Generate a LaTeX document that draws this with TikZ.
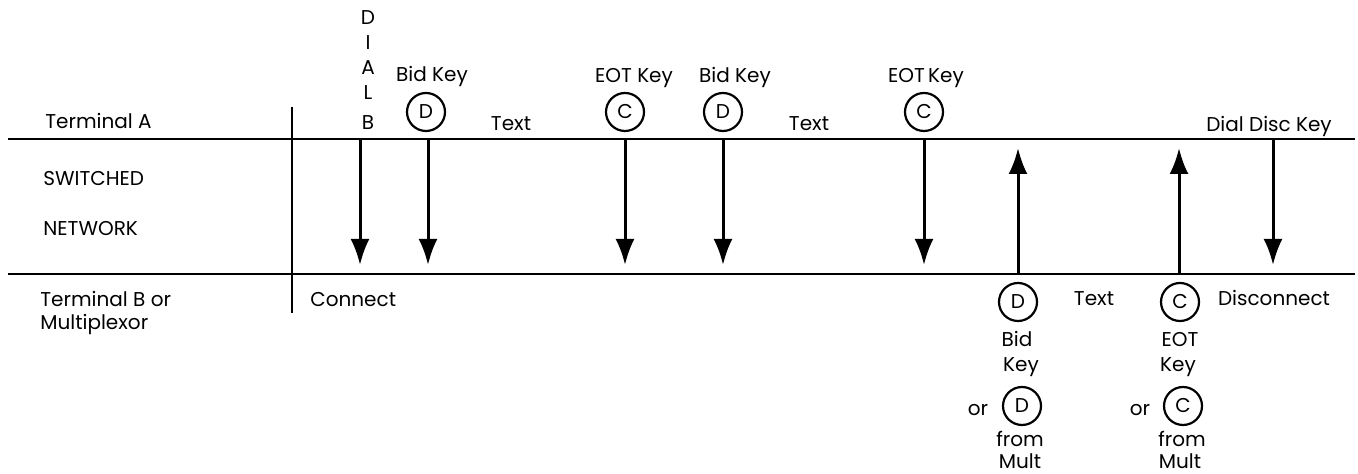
\documentclass[tikz,border=0pt]{standalone}
\usepackage{fontspec}
\setmainfont{Poppins}
\usetikzlibrary{arrows.meta}

\begin{document}
\begin{tikzpicture}[x=0.5pt, y=-0.5pt,
  every node/.style={font=\fontsize{10}{12}\selectfont, inner sep=0pt},
  lbl/.style={anchor=base},
  lblw/.style={anchor=base west},
  keyc/.style={circle, draw, line width=1.1pt, minimum size=19pt},
  rule/.style={line width=1pt},
  sig/.style={line width=1.5pt, -{Latex[length=13pt,width=9.5pt]}}]

\useasboundingbox (0,0) rectangle (1358,474);

\draw[rule] (8,139) -- (1355,139);
\draw[rule] (8,274) -- (1355,274);
\draw[rule] (292,107) -- (292,313);

% Terminal A row
\node[lblw] (tA)  at (45,129)  {Terminal A};
\node[lbl]  (dD)  at (368,25)  {D};
\node[lbl]  (dI)  at (368,50)  {I};
\node[lbl]  (dA)  at (368,75)  {A};
\node[lbl]  (dL)  at (368,100) {L};
\node[lbl]  (dB)  at (368,130) {B};
\node[lbl]  (bk1) at (432,82)  {Bid Key};
\node[keyc] (kD1) at (426,112) {D};
\node[lbl]  (tx1) at (511,131) {Text};
\node[lbl]  (ek1) at (634,83)  {EOT Key};
\node[keyc] (kC1) at (625,112) {C};
\node[lbl]  (bk2) at (735,83)  {Bid Key};
\node[keyc] (kD2) at (723,112) {D};
\node[lbl]  (tx2) at (809,131) {Text};
\node[lbl]  (ek2) at (926,83)  {EOT\,Key};
\node[keyc] (kC2) at (924,112) {C};
\node[lbl]  (ddk) at (1269,132) {Dial Disc Key};

% Network
\node[lblw] (sw) at (43,186) {SWITCHED};
\node[lblw] (nw) at (43,236) {NETWORK};

% Terminal B row
\node[lblw] (tB)  at (40,307)   {Terminal B or};
\node[lblw] (mx)  at (40,330)   {Multiplexor};
\node[lblw] (cn)  at (310,307)  {Connect};
\node[keyc] (kD3) at (1018,302) {D};
\node[lbl]  (tx3) at (1094,306) {Text};
\node[keyc] (kC3) at (1180,302) {C};
\node[lbl]  (dc)  at (1274,306) {Disconnect};
\node[lbl]  (bd)  at (1017,347) {Bid};
\node[lbl]  (bdk) at (1021,372) {Key};
\node[lbl]  (eo)  at (1180,347) {EOT};
\node[lbl]  (eok) at (1178,372) {Key};
\node[lbl]  (or1) at (978,416)  {or};
\node[keyc] (kD4) at (1022,406) {D};
\node[lbl]  (or2) at (1140,416) {or};
\node[keyc] (kC4) at (1183,406) {C};
\node[lbl]  (fm1) at (1020,447) {from};
\node[lbl]  (ml1) at (1020,469) {Mult};
\node[lbl]  (fm2) at (1182,447) {from};
\node[lbl]  (ml2) at (1180,469) {Mult};

% A to B
\coordinate (dlT) at (360,139);  \coordinate (dlB) at (360,265);
\coordinate (b1T) at (428,139);  \coordinate (b1B) at (428,265);
\coordinate (e1T) at (625,139);  \coordinate (e1B) at (625,265);
\coordinate (b2T) at (723,139);  \coordinate (b2B) at (723,265);
\coordinate (e2T) at (924,139);  \coordinate (e2B) at (924,265);
\coordinate (ddT) at (1273,139); \coordinate (ddB) at (1273,265);

\draw[sig] (dlT) -- (dlB);
\draw[sig] (b1T) -- (b1B);
\draw[sig] (e1T) -- (e1B);
\draw[sig] (b2T) -- (b2B);
\draw[sig] (e2T) -- (e2B);
\draw[sig] (ddT) -- (ddB);

% B to A
\coordinate (u1B) at (1018,274); \coordinate (u1T) at (1018,148);
\coordinate (u2B) at (1179,274); \coordinate (u2T) at (1179,148);

\draw[sig] (u1B) -- (u1T);
\draw[sig] (u2B) -- (u2T);

\end{tikzpicture}
\end{document}
